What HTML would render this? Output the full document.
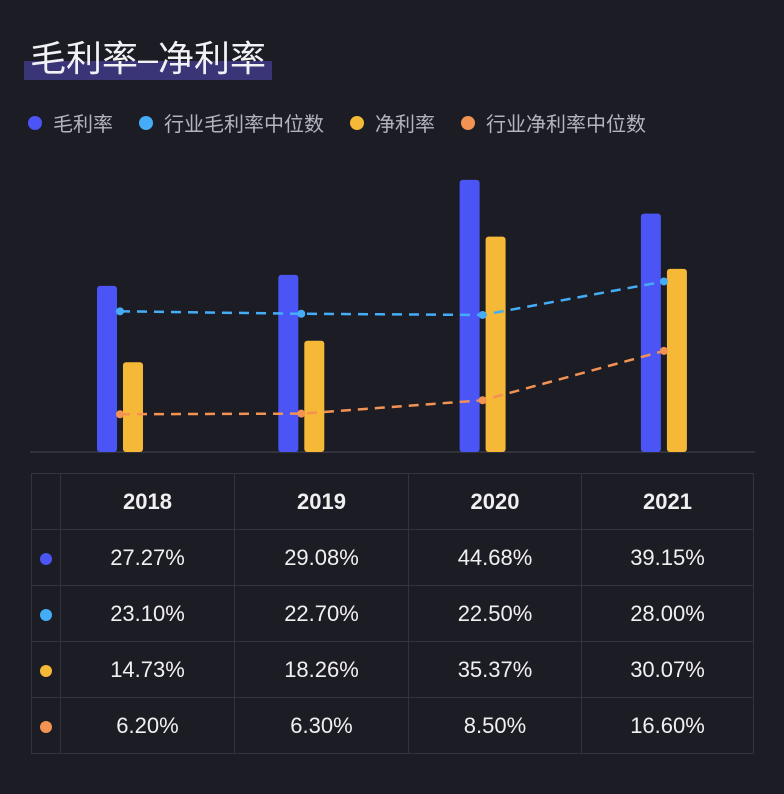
<!DOCTYPE html>
<html><head><meta charset="utf-8"><style>
body{margin:0;background:#1c1c25;width:784px;height:794px;overflow:hidden;font-family:"Liberation Sans","Noto Sans CJK SC",sans-serif;color:#fff;position:relative}
.title{position:absolute;left:24px;top:38px;height:42px;line-height:42px;padding:0 6px;font-size:36px;background:linear-gradient(to bottom,transparent 55%,#3a3577 55%);color:#f2f2f6}
.legend{position:absolute;top:108px;left:28px;font-size:20px;color:#b4b4be;display:flex;gap:26px}
.legend span{display:flex;align-items:center}
.legend i{display:inline-block;width:14px;height:14px;border-radius:50%;margin-right:11px}
table{position:absolute;left:31px;top:473px;border-collapse:collapse}
td{border:1px solid #33333e;height:55px;text-align:center;font-size:22px;color:#f0f0f0;padding:0}
tr:first-child td{font-weight:bold}
td.d{width:28px}td.d i{display:inline-block;width:12px;height:12px;border-radius:50%}
</style></head><body>
<div class="title">毛利率–净利率</div>
<div class="legend">
<span><i style="background:#4b55f5"></i>毛利率</span>
<span><i style="background:#45adf7"></i>行业毛利率中位数</span>
<span><i style="background:#f6b937"></i>净利率</span>
<span><i style="background:#f39353"></i>行业净利率中位数</span>
</div>
<svg id="c" width="784" height="470" style="position:absolute;left:0;top:0"></svg>
<table>
<tr><td class="d"></td><td style="width:173px">2018</td><td style="width:173px">2019</td><td style="width:172px">2020</td><td style="width:171px">2021</td></tr>
<tr><td class="d"><i style="background:#4b55f5"></i></td><td>27.27%</td><td>29.08%</td><td>44.68%</td><td>39.15%</td></tr>
<tr><td class="d"><i style="background:#45adf7"></i></td><td>23.10%</td><td>22.70%</td><td>22.50%</td><td>28.00%</td></tr>
<tr><td class="d"><i style="background:#f6b937"></i></td><td>14.73%</td><td>18.26%</td><td>35.37%</td><td>30.07%</td></tr>
<tr><td class="d"><i style="background:#f39353"></i></td><td>6.20%</td><td>6.30%</td><td>8.50%</td><td>16.60%</td></tr>
</table>
<script>
const categories=["2018","2019","2020","2021"];
const gross=[27.27,29.08,44.68,39.15];
const grossMedian=[23.10,22.70,22.50,28.00];
const net=[14.73,18.26,35.37,30.07];
const netMedian=[6.20,6.30,8.50,16.60];
const svg=document.getElementById('c');const NS='http://www.w3.org/2000/svg';
const base=452,k=6.09;
const x=i=>120+i*181.3;const y=v=>base-v*k;
function mk(t,a){const e=document.createElementNS(NS,t);for(const n in a)e.setAttribute(n,a[n]);svg.appendChild(e);return e;}
const ax=mk('line',{x1:30,x2:755,y1:base,y2:base,stroke:'#3a3a46','stroke-width':1.5});


categories.forEach((c,i)=>{
 const b1=mk('rect',{x:x(i)-23,y:y(gross[i]),width:20,height:gross[i]*k,rx:3,fill:'#4b55f5'});
 
 
 const b2=mk('rect',{x:x(i)+3,y:y(net[i]),width:20,height:net[i]*k,rx:3,fill:'#f6b937'});
 
 
});
[[grossMedian,'#45adf7','gross-median'],[netMedian,'#f39353','net-median']].forEach(([d,col,n])=>{
 const l=mk('polyline',{points:d.map((v,i)=>x(i)+','+y(v)).join(' '),fill:'none',stroke:col,'stroke-width':2.5,'stroke-dasharray':'10 7'});
 
 
 d.forEach((v,i)=>{const p=mk('circle',{cx:x(i),cy:y(v),r:4,fill:col});
 
 });
});
</script>
</body></html>
